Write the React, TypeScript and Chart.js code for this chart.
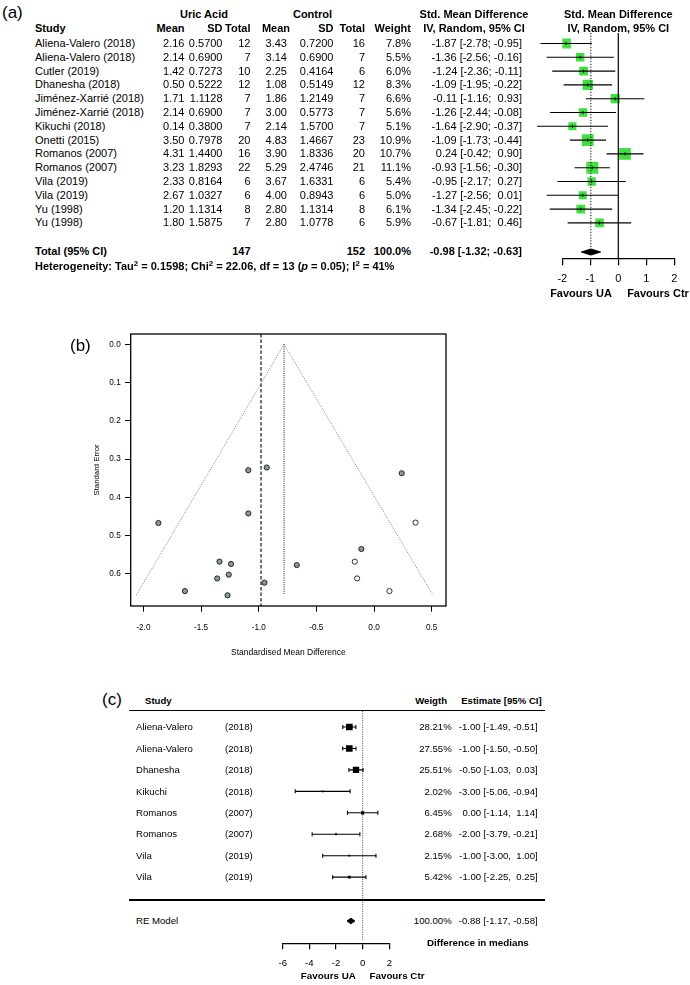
import React, { useEffect, useRef } from 'react';
import { Chart, registerables } from 'chart.js';

Chart.register(...registerables);

const FONT = "'Liberation Sans', Arial, Helvetica, sans-serif";

// ---------- Panel (a) data ----------
const A_STUDIES = [
  'Aliena-Valero (2018)', 'Aliena-Valero (2018)', 'Cutler (2019)', 'Dhanesha (2018)',
  'Jiménez-Xarrié (2018)', 'Jiménez-Xarrié (2018)', 'Kikuchi (2018)', 'Onetti (2015)',
  'Romanos (2007)', 'Romanos (2007)', 'Vila (2019)', 'Vila (2019)', 'Yu (1998)', 'Yu (1998)',
];
const A_UA_MEAN = [2.16, 2.14, 1.42, 0.5, 1.71, 2.14, 0.14, 3.5, 4.31, 3.23, 2.33, 2.67, 1.2, 1.8];
const A_UA_SD = [0.57, 0.69, 0.7273, 0.5222, 1.1128, 0.69, 0.38, 0.7978, 1.44, 1.8293, 0.8164, 1.0327, 1.1314, 1.5875];
const A_UA_N = [12, 7, 10, 12, 7, 7, 7, 20, 16, 22, 6, 6, 8, 7];
const A_CT_MEAN = [3.43, 3.14, 2.25, 1.08, 1.86, 3.0, 2.14, 4.83, 3.9, 5.29, 3.67, 4.0, 2.8, 2.8];
const A_CT_SD = [0.72, 0.69, 0.4164, 0.5149, 1.2149, 0.5773, 1.57, 1.4667, 1.8336, 2.4746, 1.6331, 0.8943, 1.1314, 1.0778];
const A_CT_N = [16, 7, 6, 12, 7, 7, 7, 23, 20, 21, 6, 6, 8, 6];
const A_WEIGHT = [7.8, 5.5, 6.0, 8.3, 6.6, 5.6, 5.1, 10.9, 10.7, 11.1, 5.4, 5.0, 6.1, 5.9];
const A_SMD = [-1.87, -1.36, -1.24, -1.09, -0.11, -1.26, -1.64, -1.09, 0.24, -0.93, -0.95, -1.27, -1.34, -0.67];
const A_LO = [-2.78, -2.56, -2.36, -1.95, -1.16, -2.44, -2.9, -1.73, -0.42, -1.56, -2.17, -2.56, -2.45, -1.81];
const A_HI = [-0.95, -0.16, -0.11, -0.22, 0.93, -0.08, -0.37, -0.44, 0.9, -0.3, 0.27, 0.01, -0.22, 0.46];
const A_TOTAL_N = [147, 152];
const A_TOTAL = [-0.98, -1.32, -0.63]; // estimate, lower, upper
const A_TICKS = [-2, -1, 0, 1, 2];

// ---------- Panel (b) data ----------
const B_FILLED_SMD = [-1.87, -1.36, -1.24, -1.09, -0.11, -1.26, -1.64, -1.09, 0.24, -0.93, -0.95, -1.27, -1.34, -0.67];
const B_FILLED_SE = [0.467, 0.612, 0.574, 0.442, 0.535, 0.602, 0.645, 0.329, 0.337, 0.322, 0.623, 0.656, 0.568, 0.577];
const B_OPEN_SMD = [0.36, -0.167, -0.147, 0.134];
const B_OPEN_SE = [0.466, 0.568, 0.612, 0.645];
const B_FUNNEL_X = [-2.06, -0.78, 0.51];
const B_FUNNEL_SE = [0.655, 0, 0.655];
const B_POOLED = -0.98;
const B_ADJUSTED = -0.78;
const B_X_TICKS = [-2.0, -1.5, -1.0, -0.5, 0.0, 0.5];
const B_Y_TICKS = [0.0, 0.1, 0.2, 0.3, 0.4, 0.5, 0.6];

// ---------- Panel (c) data ----------
const C_STUDIES = ['Aliena-Valero', 'Aliena-Valero', 'Dhanesha', 'Kikuchi', 'Romanos', 'Romanos', 'Vila', 'Vila'];
const C_YEARS = [2018, 2018, 2018, 2018, 2007, 2007, 2019, 2019];
const C_WEIGHT = [28.21, 27.55, 25.51, 2.02, 6.45, 2.68, 2.15, 5.42];
const C_EST = [-1.0, -1.0, -0.5, -3.0, 0.0, -2.0, -1.0, -1.0];
const C_LO = [-1.49, -1.5, -1.03, -5.06, -1.14, -3.79, -3.0, -2.25];
const C_HI = [-0.51, -0.5, 0.03, -0.94, 1.14, -0.21, 1.0, 0.25];
const C_RE = [-0.88, -1.17, -0.58]; // estimate, lower, upper
const C_RE_WEIGHT = 100.0;
const C_TICKS = [-6, -4, -2, 0, 2];

// ---------- helpers ----------
const f2 = (v: number) => (v < 0 ? '-' : ' ') + Math.abs(v).toFixed(2);
const ciA = (e: number, l: number, h: number) => `${f2(e)} [${f2(l)}; ${f2(h)}]`;
const ciC = (e: number, l: number, h: number) => `${f2(e)} [${f2(l)}, ${f2(h)}]`;

type TP = { x: number; y: number; s?: number; a?: 'l' | 'r' | 'c'; b?: boolean; children: React.ReactNode };
const T = ({ x, y, s = 11, a = 'l', b = false, children }: TP) => (
  <div
    style={{
      position: 'absolute',
      left: x,
      top: y - s * 0.6,
      fontSize: s,
      lineHeight: `${s * 1.2}px`,
      fontWeight: b ? 'bold' : 'normal',
      whiteSpace: 'pre',
      transform: a === 'r' ? 'translateX(-100%)' : a === 'c' ? 'translateX(-50%)' : undefined,
      fontFamily: FONT,
      color: '#000',
    }}
  >
    {children}
  </div>
);

const Sup = ({ children }: { children: React.ReactNode }) => (
  <sup style={{ fontSize: '0.72em', lineHeight: 0, verticalAlign: '0.45em' }}>{children}</sup>
);

function ChartBox({ left, top, width, height, make }: { left: number; top: number; width: number; height: number; make: () => any }) {
  const ref = useRef<HTMLCanvasElement>(null);
  useEffect(() => {
    const chart = new Chart(ref.current as HTMLCanvasElement, make());
    return () => chart.destroy();
  }, []);
  return (
    <canvas
      ref={ref}
      width={width}
      height={height}
      style={{ position: 'absolute', left, top, width, height }}
    />
  );
}

const baseOpts = {
  responsive: false,
  maintainAspectRatio: false,
  animation: false,
  events: [] as any[],
  plugins: { legend: { display: false }, tooltip: { enabled: false } },
};

// ---------- Chart A (forest) ----------
const A_YMIN = -0.761;
const A_YMAX = 15.565;
const A_TOTAL_ROW = 15.11;
const GREEN = '#40e040';

function makeA() {
  const pts = A_SMD.map((v, i) => ({ x: v, y: i }));
  const ciSets = A_SMD.map((_, i) => ({
    showLine: true,
    data: [{ x: A_LO[i], y: i }, { x: A_HI[i], y: i }],
    borderColor: '#000',
    borderWidth: 1.1,
    pointRadius: 0,
    clip: false,
    order: 1,
  }));
  const [te, tl, th] = A_TOTAL;
  const dh = 0.22;
  return {
    type: 'scatter',
    data: {
      datasets: [
        ...ciSets,
        {
          data: pts,
          pointStyle: 'rect',
          pointRadius: A_WEIGHT.map((w) => (3.58 * Math.sqrt(w)) / Math.SQRT2),
          backgroundColor: GREEN,
          borderColor: GREEN,
          borderWidth: 0,
          order: 3,
        },
        {
          data: pts,
          pointStyle: 'line',
          pointRotation: 90,
          pointRadius: 1.6,
          borderColor: '#000',
          pointBorderWidth: 1,
          order: 0,
        },
        {
          showLine: true,
          data: [{ x: 0, y: A_YMIN }, { x: 0, y: A_YMAX }],
          borderColor: '#000',
          borderWidth: 1.2,
          pointRadius: 0,
          order: 2,
        },
        {
          showLine: true,
          data: [{ x: te, y: A_YMIN }, { x: te, y: 14.82 }],
          borderColor: '#000',
          borderWidth: 1,
          borderDash: [1.2, 1.6],
          pointRadius: 0,
          order: 2,
        },
        {
          showLine: true,
          data: [
            { x: tl, y: A_TOTAL_ROW },
            { x: te, y: A_TOTAL_ROW - dh },
            { x: th, y: A_TOTAL_ROW },
            { x: te, y: A_TOTAL_ROW + dh },
            { x: tl, y: A_TOTAL_ROW },
          ],
          fill: 'shape',
          backgroundColor: '#000',
          borderColor: '#000',
          borderWidth: 1,
          pointRadius: 0,
          order: 0,
        },
      ],
    },
    options: {
      ...baseOpts,
      layout: { padding: { left: 42.3, right: 15.7, top: 33, bottom: 1.7 } },
      scales: {
        x: {
          type: 'linear',
          min: -2,
          max: 2,
          afterBuildTicks: (s: any) => {
            s.ticks = A_TICKS.map((v) => ({ value: v }));
          },
          afterFit: (s: any) => {
            s.height = 40;
          },
          grid: { drawOnChartArea: false, drawTicks: true, tickLength: 7, color: '#000', lineWidth: 1.2 },
          border: { display: true, color: '#000', width: 1.2 },
          ticks: {
            padding: 6.7,
            color: '#000',
            font: { family: FONT, size: 11 },
            maxRotation: 0,
            autoSkip: false,
            callback: (v: any) => String(v),
          },
        },
        y: { type: 'linear', display: false, reverse: true, min: A_YMIN, max: A_YMAX },
      },
    },
  };
}

// ---------- Chart B (funnel) ----------
const B_YMIN = -0.027;
const B_YMAX = 0.684;
const boxPlugin = {
  id: 'boxBorder',
  afterDraw(chart: any) {
    const { ctx, chartArea: a } = chart;
    ctx.save();
    ctx.strokeStyle = '#000';
    ctx.lineWidth = 1.3;
    ctx.strokeRect(a.left, a.top, a.right - a.left, a.bottom - a.top);
    ctx.restore();
  },
};

function makeB() {
  return {
    type: 'scatter',
    data: {
      datasets: [
        {
          data: B_FILLED_SMD.map((x, i) => ({ x, y: B_FILLED_SE[i] })),
          pointRadius: 2.6,
          backgroundColor: '#8a9996',
          borderColor: '#1a1a1a',
          borderWidth: 0.9,
          order: 0,
        },
        {
          data: B_OPEN_SMD.map((x, i) => ({ x, y: B_OPEN_SE[i] })),
          pointRadius: 2.6,
          backgroundColor: '#ffffff',
          borderColor: '#1a1a1a',
          borderWidth: 0.9,
          order: 0,
        },
        {
          showLine: true,
          data: B_FUNNEL_X.map((x, i) => ({ x, y: B_FUNNEL_SE[i] })),
          borderColor: '#555',
          borderWidth: 0.8,
          borderDash: [1, 1.5],
          pointRadius: 0,
          order: 2,
        },
        {
          showLine: true,
          data: [{ x: B_POOLED, y: B_YMIN }, { x: B_POOLED, y: B_YMAX }],
          borderColor: '#000',
          borderWidth: 1.1,
          borderDash: [3.5, 2],
          pointRadius: 0,
          order: 2,
        },
        {
          showLine: true,
          data: [{ x: B_ADJUSTED, y: 0 }, { x: B_ADJUSTED, y: B_FUNNEL_SE[0] }],
          borderColor: '#000',
          borderWidth: 0.9,
          borderDash: [1, 1.2],
          pointRadius: 0,
          order: 2,
        },
      ],
    },
    plugins: [boxPlugin],
    options: {
      ...baseOpts,
      layout: { padding: { left: 0, right: 14, top: 14, bottom: 4 } },
      scales: {
        x: {
          type: 'linear',
          min: -2.11,
          max: 0.624,
          afterBuildTicks: (s: any) => {
            s.ticks = B_X_TICKS.map((v) => ({ value: v }));
          },
          afterFit: (s: any) => {
            s.height = 60;
          },
          grid: { drawOnChartArea: false, drawTicks: true, tickLength: 5.7, color: '#000', lineWidth: 1 },
          border: { display: false },
          ticks: {
            padding: 11.4,
            color: '#000',
            font: { family: FONT, size: 8.2 },
            maxRotation: 0,
            autoSkip: false,
            callback: (v: any) => Number(v).toFixed(1),
          },
          title: {
            display: true,
            text: 'Standardised Mean Difference',
            color: '#000',
            font: { family: FONT, size: 8.5 },
            padding: { top: 0, bottom: 7.9 },
          },
        },
        y: {
          type: 'linear',
          reverse: true,
          min: B_YMIN,
          max: B_YMAX,
          afterBuildTicks: (s: any) => {
            s.ticks = B_Y_TICKS.map((v) => ({ value: v }));
          },
          afterFit: (s: any) => {
            s.width = 70.7;
          },
          grid: { drawOnChartArea: false, drawTicks: true, tickLength: 5.7, color: '#000', lineWidth: 1 },
          border: { display: false },
          ticks: {
            padding: 4.3,
            color: '#000',
            font: { family: FONT, size: 8.2 },
            autoSkip: false,
            callback: (v: any) => Number(v).toFixed(1),
          },
          title: {
            display: true,
            text: 'Standard Error',
            color: '#000',
            font: { family: FONT, size: 7.8 },
            padding: { top: 32.3, bottom: 0 },
          },
        },
      },
    },
  };
}

// ---------- Chart C (forest, medians) ----------
const C_YMIN = -0.746;
const C_YMAX = 10.084;
const C_RE_ROW = 9.044;

function makeC() {
  const ciSets = C_EST.map((_, i) => ({
    showLine: true,
    data: [{ x: C_LO[i], y: i }, { x: C_HI[i], y: i }],
    borderColor: '#000',
    borderWidth: 1.1,
    pointStyle: 'line',
    pointRotation: 90,
    pointRadius: 2,
    pointBorderColor: '#000',
    pointBorderWidth: 1.1,
    order: 1,
  }));
  const [re, rl, rh] = C_RE;
  const dh = 0.13;
  return {
    type: 'scatter',
    data: {
      datasets: [
        ...ciSets,
        {
          data: C_EST.map((v, i) => ({ x: v, y: i })),
          pointStyle: 'rect',
          pointRadius: C_WEIGHT.map((w) => Math.max(1.3, (1.26 * Math.sqrt(w)) / Math.SQRT2)),
          backgroundColor: '#000',
          borderColor: '#000',
          borderWidth: 0,
          order: 0,
        },
        {
          showLine: true,
          data: [{ x: 0, y: C_YMIN }, { x: 0, y: 9.93 }],
          borderColor: '#333',
          borderWidth: 0.9,
          borderDash: [1, 1.3],
          pointRadius: 0,
          order: 2,
        },
        {
          showLine: true,
          data: [
            { x: rl, y: C_RE_ROW },
            { x: re, y: C_RE_ROW - dh },
            { x: rh, y: C_RE_ROW },
            { x: re, y: C_RE_ROW + dh },
            { x: rl, y: C_RE_ROW },
          ],
          fill: 'shape',
          backgroundColor: '#000',
          borderColor: '#000',
          borderWidth: 1,
          pointRadius: 0,
          order: 0,
        },
      ],
    },
    options: {
      ...baseOpts,
      layout: { padding: { left: 20.7, right: 22.7, top: 11, bottom: 1.7 } },
      scales: {
        x: {
          type: 'linear',
          min: -6,
          max: 2,
          afterBuildTicks: (s: any) => {
            s.ticks = C_TICKS.map((v) => ({ value: v }));
          },
          afterFit: (s: any) => {
            s.height = 40;
          },
          grid: { drawOnChartArea: false, drawTicks: true, tickLength: 6, color: '#000', lineWidth: 1.2 },
          border: { display: true, color: '#000', width: 1.2 },
          ticks: {
            padding: 8,
            color: '#000',
            font: { family: FONT, size: 9.6 },
            maxRotation: 0,
            autoSkip: false,
            callback: (v: any) => String(v),
          },
        },
        y: { type: 'linear', display: false, reverse: true, min: C_YMIN, max: C_YMAX },
      },
    },
  };
}

// ---------- App ----------
export default function App() {
  const aRowY = (i: number) => 43.5 + 13.8 * i;
  const cRowY = (i: number) => 727 + 21.45 * i;
  return (
    <div
      style={{
        position: 'absolute',
        left: 0,
        top: 0,
        width: 690,
        height: 985,
        overflow: 'hidden',
        background: '#fff',
        fontFamily: FONT,
      }}
    >
      <ChartBox left={520} top={0} width={170} height={300} make={makeA} />
      <ChartBox left={60} top={320} width={400} height={350} make={makeB} />
      <ChartBox left={262} top={700} width={150} height={285} make={makeC} />

      {/* Panel (a) */}
      <T x={2} y={13} s={17}>(a)</T>
      <T x={204} y={15} a="c" b>Uric Acid</T>
      <T x={312.5} y={15} a="c" b>Control</T>
      <T x={474} y={15} a="c" b>Std. Mean Difference</T>
      <T x={618.3} y={15} a="c" b>Std. Mean Difference</T>
      <T x={35} y={29} b>Study</T>
      <T x={184.5} y={29} a="r" b>Mean</T>
      <T x={222.5} y={29} a="r" b>SD</T>
      <T x={250.5} y={29} a="r" b>Total</T>
      <T x={290} y={29} a="r" b>Mean</T>
      <T x={333.5} y={29} a="r" b>SD</T>
      <T x={365} y={29} a="r" b>Total</T>
      <T x={411} y={29} a="r" b>Weight</T>
      <T x={474} y={29} a="c" b>IV, Random, 95% CI</T>
      <T x={618.3} y={29} a="c" b>IV, Random, 95% CI</T>
      {A_STUDIES.map((s, i) => (
        <React.Fragment key={'a' + i}>
          <T x={35} y={aRowY(i)}>{s}</T>
          <T x={184.5} y={aRowY(i)} a="r">{A_UA_MEAN[i].toFixed(2)}</T>
          <T x={222.5} y={aRowY(i)} a="r">{A_UA_SD[i].toFixed(4)}</T>
          <T x={250.5} y={aRowY(i)} a="r">{String(A_UA_N[i])}</T>
          <T x={287} y={aRowY(i)} a="r">{A_CT_MEAN[i].toFixed(2)}</T>
          <T x={333.5} y={aRowY(i)} a="r">{A_CT_SD[i].toFixed(4)}</T>
          <T x={365} y={aRowY(i)} a="r">{String(A_CT_N[i])}</T>
          <T x={411} y={aRowY(i)} a="r">{A_WEIGHT[i].toFixed(1) + '%'}</T>
          <T x={522} y={aRowY(i)} a="r">{ciA(A_SMD[i], A_LO[i], A_HI[i])}</T>
        </React.Fragment>
      ))}
      <T x={35} y={252} b>Total (95% CI)</T>
      <T x={250.5} y={252} a="r" b>{String(A_TOTAL_N[0])}</T>
      <T x={365} y={252} a="r" b>{String(A_TOTAL_N[1])}</T>
      <T x={411} y={252} a="r" b>100.0%</T>
      <T x={522} y={252} a="r" b>{ciA(A_TOTAL[0], A_TOTAL[1], A_TOTAL[2])}</T>
      <T x={35} y={267} b>
        Heterogeneity: Tau<Sup>2</Sup> = 0.1598; Chi<Sup>2</Sup> = 22.06, df = 13 (<i>p</i> = 0.05); I<Sup>2</Sup> = 41%
      </T>
      <T x={581} y={294} a="c" b>Favours UA</T>
      <T x={658} y={294} a="c" b>Favours Ctr</T>

      {/* Panel (b) */}
      <T x={70} y={346} s={17}>(b)</T>

      {/* Panel (c) */}
      <T x={102} y={700} s={17}>(c)</T>
      <T x={145} y={701} s={9.6} b>Study</T>
      <T x={447} y={701} s={9.6} a="r" b>Weigth</T>
      <T x={541.7} y={701} s={9.6} a="r" b>Estimate [95% CI]</T>
      <div style={{ position: 'absolute', left: 129.3, top: 710, width: 415.7, height: 1.4, background: '#000' }} />
      <div style={{ position: 'absolute', left: 129.3, top: 899.3, width: 415.7, height: 1.4, background: '#000' }} />
      {C_STUDIES.map((s, i) => (
        <React.Fragment key={'c' + i}>
          <T x={136} y={cRowY(i)} s={9.6}>{s}</T>
          <T x={225} y={cRowY(i)} s={9.6}>{`(${C_YEARS[i]})`}</T>
          <T x={451.7} y={cRowY(i)} s={9.6} a="r">{C_WEIGHT[i].toFixed(2) + '%'}</T>
          <T x={537.7} y={cRowY(i)} s={9.6} a="r">{ciC(C_EST[i], C_LO[i], C_HI[i])}</T>
        </React.Fragment>
      ))}
      <T x={136} y={921} s={9.6}>RE Model</T>
      <T x={451.7} y={921} s={9.6} a="r">{C_RE_WEIGHT.toFixed(2) + '%'}</T>
      <T x={537.7} y={921} s={9.6} a="r">{ciC(C_RE[0], C_RE[1], C_RE[2])}</T>
      <T x={427} y={943} s={9.8} b>Difference in medians</T>
      <T x={328.3} y={976} s={9.8} a="c" b>Favours UA</T>
      <T x={397} y={976} s={9.8} a="c" b>Favours Ctr</T>
    </div>
  );
}
